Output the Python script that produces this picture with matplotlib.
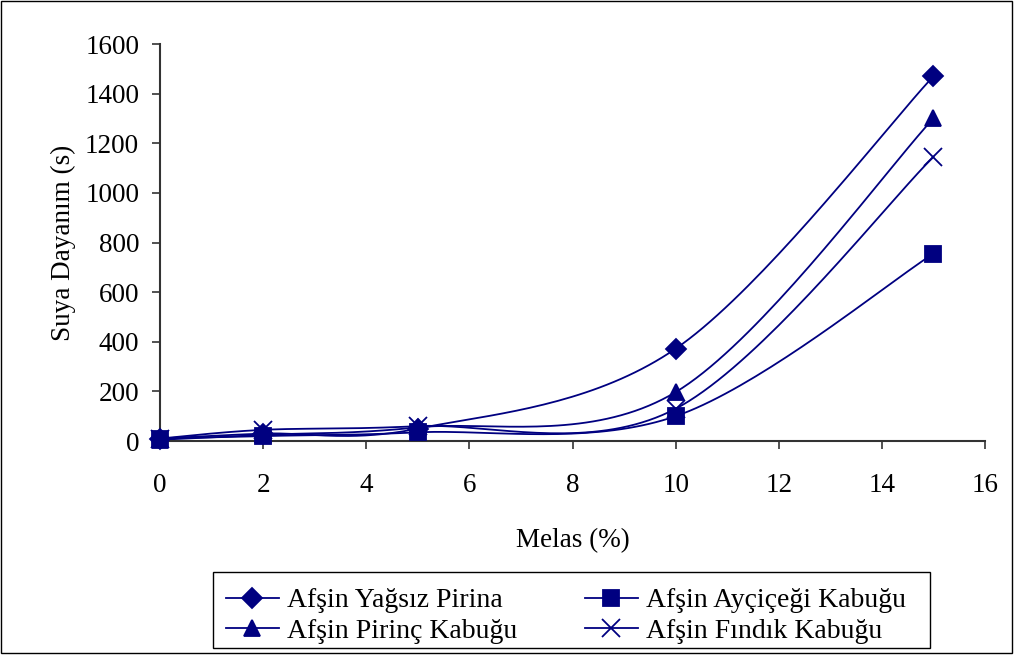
import numpy as np
import matplotlib
matplotlib.use("Agg")
import matplotlib.pyplot as plt
from matplotlib.lines import Line2D
from matplotlib.patches import Rectangle

plt.rcParams['font.family'] = ['Liberation Serif', 'DejaVu Serif']

melas = [0, 2, 5, 10, 15]
yagsiz_pirina = [10, 30, 50, 372, 1470]
aycicegi_kabugu = [10, 20, 35, 100, 755]
pirinc_kabugu = [5, 25, 55, 197, 1300]
findik_kabugu = [10, 45, 60, 130, 1145]

labels = ["Afşin Yağsız Pirina", "Afşin Ayçiçeği Kabuğu",
          "Afşin Pirinç Kabuğu", "Afşin Fındık Kabuğu"]
xticks = [0, 2, 4, 6, 8, 10, 12, 14, 16]
yticks = [0, 200, 400, 600, 800, 1000, 1200, 1400, 1600]

color = "#000080"
FS = 19.5
W, H = 1014, 655

fig = plt.figure(figsize=(10.14, 6.55), dpi=100)
ax = fig.add_axes([0.1578, 0.3267, 0.8136, 0.6061])
ax.set_xlim(0, 16)
ax.set_ylim(0, 1600)


def smooth(ax, xs, ys, n=40):
    pts = ax.transData.transform(np.column_stack([xs, ys]))
    P = np.vstack([pts[0], pts, pts[-1]])
    out = []
    for i in range(1, len(P) - 2):
        p0, p3 = P[i], P[i + 1]
        c1 = p0 + (P[i + 1] - P[i - 1]) / 6.0
        c2 = p3 - (P[i + 2] - P[i]) / 6.0
        t = np.linspace(0, 1, n)[:, None]
        seg = ((1 - t) ** 3) * p0 + 3 * ((1 - t) ** 2) * t * c1 + 3 * (1 - t) * t ** 2 * c2 + t ** 3 * p3
        out.append(seg if i == 1 else seg[1:])
    out = np.vstack(out)
    d = ax.transData.inverted().transform(out)
    return d[:, 0], d[:, 1]


series = [
    (yagsiz_pirina, 'D', 10, labels[0]),
    (aycicegi_kabugu, 's', 12, labels[1]),
    (pirinc_kabugu, '^', 12, labels[2]),
    (findik_kabugu, 'x', 13, labels[3]),
]
handles = {}
for ys, mk, ms, lab in series:
    sx, sy = smooth(ax, melas, ys)
    ax.plot(sx, sy, color=color, lw=1.3, clip_on=False, zorder=2)
    ax.plot(melas, ys, linestyle='none', marker=mk, ms=ms, color=color,
            mec=color, mew=1.3, clip_on=False, zorder=3)
    handles[lab] = Line2D([], [], color=color, lw=1.3, marker=mk, ms=ms, mew=1.3)

for s in ['top', 'right']:
    ax.spines[s].set_visible(False)
for s in ['left', 'bottom']:
    ax.spines[s].set_color('#333333')
    ax.spines[s].set_linewidth(1.5)

ax.set_xticks(xticks)
ax.set_yticks(yticks)
ax.tick_params(direction='out', length=6, width=1.2, color='#333333',
               labelsize=FS)
ax.tick_params(axis='x', pad=17)
ax.tick_params(axis='y', pad=9)
ax.set_xlabel("Melas (%)", fontsize=FS)
ax.set_ylabel("Suya Dayanım (s)", fontsize=FS)
ax.xaxis.set_label_coords(0.5, -0.2195)
ax.yaxis.set_label_coords(-0.102, 0.5)

order = [labels[0], labels[2], labels[1], labels[3]]
leg = fig.legend([handles[l] for l in order], order, loc='upper left',
                 bbox_to_anchor=(226 / W, 1 - 588 / H),
                 ncol=2, fontsize=20, frameon=False,
                 borderaxespad=0, handlelength=1.9, handletextpad=0.3,
                 labelspacing=0.18, borderpad=0.0, columnspacing=2.43)

fig.patches.append(Rectangle((213 / W, 1 - 648 / H), 717 / W, 76 / H,
                             transform=fig.transFigure, fill=False,
                             edgecolor='black', linewidth=1.0))
fig.patches.append(Rectangle((0.001, 0.003), 0.997, 0.995, transform=fig.transFigure,
                             fill=False, edgecolor='black', linewidth=1.0))

fig.savefig("out.png", dpi=100)
